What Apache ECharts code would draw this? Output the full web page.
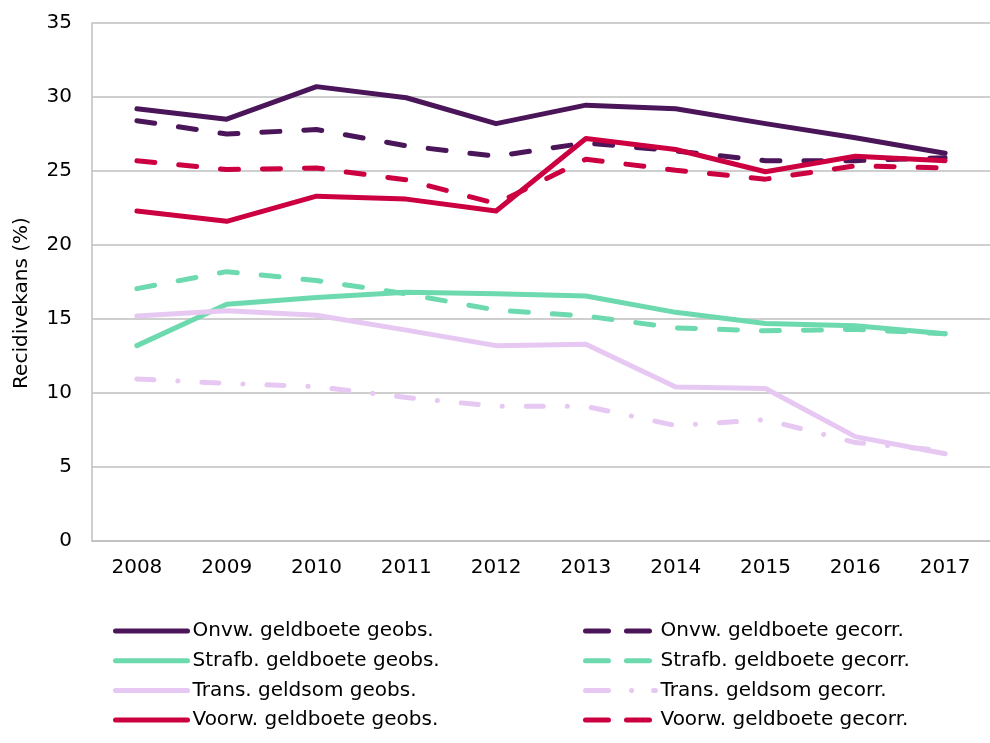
<!DOCTYPE html>
<html><head><meta charset="utf-8">
<script src="https://cdn.jsdelivr.net/npm/echarts@6/dist/echarts.min.js"></script>
<style>html,body{margin:0;padding:0;background:#fff}#c{width:990px;height:743px}</style>
</head><body><div id="c"></div>
<script>
const years = ['2008','2009','2010','2011','2012','2013','2014','2015','2016','2017'];
const onvwGeobs   = [29.2, 28.5, 30.7, 29.95, 28.2, 29.45, 29.2, 28.2, 27.25, 26.2];
const strafbGeobs = [13.2, 16.0, 16.45, 16.8, 16.7, 16.55, 15.45, 14.7, 14.55, 14.0];
const transGeobs  = [15.2, 15.55, 15.25, 14.25, 13.2, 13.3, 10.4, 10.3, 7.05, 5.9];
const voorwGeobs  = [22.3, 21.6, 23.3, 23.1, 22.3, 27.2, 26.45, 24.95, 26.0, 25.7];
const onvwGecorr   = [28.4, 27.5, 27.8, 26.7, 26.0, 26.9, 26.35, 25.7, 25.7, 25.9];
const strafbGecorr = [17.05, 18.2, 17.6, 16.7, 15.6, 15.2, 14.4, 14.2, 14.3, 14.0];
const transGecorr  = [10.95, 10.65, 10.43, 9.7, 9.1, 9.1, 7.8, 8.2, 6.65, 6.1];
const voorwGecorr  = [25.7, 25.1, 25.2, 24.4, 22.8, 25.8, 25.05, 24.45, 25.35, 25.2];
const names = ['Onvw. geldboete geobs.','Strafb. geldboete geobs.','Trans. geldsom geobs.','Voorw. geldboete geobs.',
               'Onvw. geldboete gecorr.','Strafb. geldboete gecorr.','Trans. geldsom gecorr.','Voorw. geldboete gecorr.'];

const cPurple = '#4b1559', cGreen = '#6cd9ae', cLilac = '#e6c8f2', cRed = '#cc0040';
const FONT = 'DejaVu Sans';
const dash = [18, 24];
const dashDot = [17, 24, 0.1, 24];

function mk(name, data, color, type, z) {
  return {
    name, type: 'line', data, symbol: 'none', z: z, animation: false,
    lineStyle: { color, width: 5, type, cap: 'round', join: 'round' },
    itemStyle: { color }
  };
}

const chart = echarts.init(document.getElementById('c'), null, { renderer: 'canvas' });
const legBase = {
  orient: 'vertical', itemWidth: 72, itemHeight: 14, itemGap: 9.7, padding: 0,
  textStyle: { fontFamily: FONT, fontSize: 20, color: '#000', lineHeight: 20 },
  itemStyle: { opacity: 0, borderWidth: 0 },
  selectedMode: false
};
chart.setOption({
  animation: false,
  textStyle: { fontFamily: FONT },
  grid: { left: 92, top: 23, height: 518, width: 909, containLabel: false },
  legend: [
    Object.assign({}, legBase, { left: 113, top: 621, itemTextGap: 5,
      lineStyle: { width: 5, cap: 'round' },
      data: names.slice(0, 4) }),
    Object.assign({}, legBase, { left: 583, top: 621, itemWidth: 70, itemTextGap: 9,
      lineStyle: { width: 5, cap: 'round' },
      data: [
        { name: names[4], lineStyle: { width: 5, cap: 'round', type: [23, 18] } },
        { name: names[5], lineStyle: { width: 5, cap: 'round', type: [23, 18] } },
        { name: names[6], lineStyle: { width: 5, cap: 'round', type: [23, 23, 0.1, 22] } },
        { name: names[7], lineStyle: { width: 5, cap: 'round', type: [23, 18] } }
      ] })
  ],
  xAxis: {
    type: 'category', data: years, boundaryGap: true,
    axisLine: { lineStyle: { color: '#bfbfbf', width: 1.5 } },
    axisTick: { show: false },
    axisLabel: { fontFamily: FONT, fontSize: 20, color: '#000', margin: 17 }
  },
  yAxis: {
    type: 'value', min: 0, max: 35, interval: 5,
    name: 'Recidivekans (%)', nameLocation: 'middle', nameGap: 60, nameRotate: 90,
    nameTextStyle: { fontFamily: FONT, fontSize: 20, color: '#000', padding: [0, 42, 0, 0] },
    axisLine: { show: true, lineStyle: { color: '#bfbfbf', width: 1.5 } },
    axisTick: { show: false },
    splitLine: { lineStyle: { color: '#bfbfbf', width: 1.5 } },
    axisLabel: { fontFamily: FONT, fontSize: 20, color: '#000', margin: 20 }
  },
  series: [
    mk(names[0], onvwGeobs, cPurple, 'solid', 3),
    mk(names[1], strafbGeobs, cGreen, 'solid', 3),
    mk(names[2], transGeobs, cLilac, 'solid', 3),
    mk(names[3], voorwGeobs, cRed, 'solid', 4),
    mk(names[4], onvwGecorr, cPurple, dash, 2),
    mk(names[5], strafbGecorr, cGreen, dash, 2),
    mk(names[6], transGecorr, cLilac, dashDot, 2),
    mk(names[7], voorwGecorr, cRed, dash, 2)
  ]
});
</script></body></html>
